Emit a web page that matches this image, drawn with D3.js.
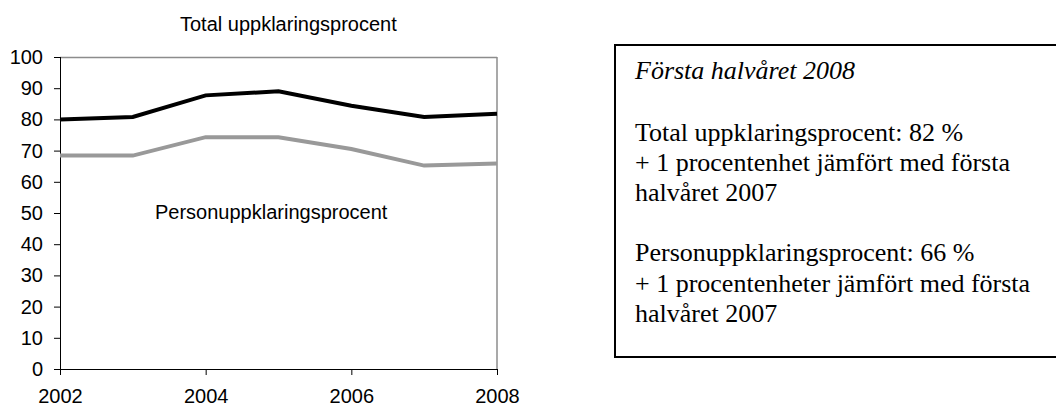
<!DOCTYPE html>
<html><head><meta charset="utf-8">
<script src="https://cdn.jsdelivr.net/npm/d3@7"></script>
<style>html,body{margin:0;padding:0;background:#fff;}svg{display:block;}</style>
</head><body>
<svg id="c" width="1056" height="410"></svg>
<script>
const years = [2002, 2003, 2004, 2005, 2006, 2007, 2008];
const totalValues = [80, 80.8, 87.7, 89.0, 84.4, 80.8, 81.8];
const personValues = [68.4, 68.4, 74.3, 74.3, 70.5, 65.2, 65.9];
const yTicks = [0, 10, 20, 30, 40, 50, 60, 70, 80, 90, 100];
const xTickLabels = [2002, 2004, 2006, 2008];
const chartTitle = "Total uppklaringsprocent";
const personLabel = "Personuppklaringsprocent";
const boxTitle = "Första halvåret 2008";
const boxLines = [
  "Total uppklaringsprocent: 82 %",
  "+ 1 procentenhet jämfört med första",
  "halvåret 2007",
  "",
  "Personuppklaringsprocent: 66 %",
  "+ 1 procentenheter jämfört med första",
  "halvåret 2007"
];

const svg = d3.select("#c");
const L = 60, R = 497, T = 57, B = 369;
const x = d3.scaleLinear().domain([2002, 2008]).range([L, R]);
const y = d3.scaleLinear().domain([0, 100]).range([B, T]);
const sans = "Arial, 'Liberation Sans', sans-serif";
const serif = "'Times New Roman', 'Liberation Serif', serif";

// plot border (top and right, gray)
svg.append("line").attr("x1", L).attr("x2", R).attr("y1", T + 0.5).attr("y2", T + 0.5)
  .attr("stroke", "#8c8c8c").attr("stroke-width", 1.5);
svg.append("line").attr("x1", R).attr("x2", R).attr("y1", T).attr("y2", B)
  .attr("stroke", "#8c8c8c").attr("stroke-width", 1.5);

// y axis
const yAxis = svg.append("g").attr("transform", `translate(${L},0)`)
  .call(d3.axisLeft(y).tickValues(yTicks).tickSize(6).tickPadding(11).tickFormat(d3.format("d")));
yAxis.select(".domain").attr("stroke", "#000").attr("d", `M0.5,${T}V${B}`);
yAxis.selectAll(".tick line").attr("stroke", "#000");
yAxis.selectAll("text").attr("font-family", sans).attr("font-size", 20).attr("fill", "#000");

// x axis
const xAxis = svg.append("g").attr("transform", `translate(0,${B})`)
  .call(d3.axisBottom(x).tickValues(xTickLabels).tickSize(6).tickPadding(14).tickFormat(d3.format("d")));
xAxis.select(".domain").attr("stroke", "#000").attr("d", `M${L},0.5H${R}`);
xAxis.selectAll(".tick line").attr("stroke", "#000");
xAxis.selectAll("text").attr("font-family", sans).attr("font-size", 20).attr("fill", "#000");

const line = d3.line().x((d, i) => x(years[i])).y(d => y(d));

svg.append("path").datum(personValues).attr("d", line)
  .attr("fill", "none").attr("stroke", "#999999").attr("stroke-width", 4);
svg.append("path").datum(totalValues).attr("d", line)
  .attr("fill", "none").attr("stroke", "#000").attr("stroke-width", 4);

// titles
svg.append("text").attr("x", 180).attr("y", 31).attr("font-family", sans).attr("font-size", 20)
  .attr("fill", "#000").text(chartTitle);
svg.append("text").attr("x", 155).attr("y", 219).attr("font-family", sans).attr("font-size", 20)
  .attr("fill", "#000").text(personLabel);

// text box
svg.append("rect").attr("x", 615).attr("y", 45).attr("width", 460).attr("height", 312)
  .attr("fill", "none").attr("stroke", "#000").attr("stroke-width", 2);
svg.append("text").attr("x", 635).attr("y", 79).attr("font-family", serif).attr("font-size", 26)
  .attr("font-style", "italic").attr("fill", "#000").text(boxTitle);
const bt = svg.append("g");
boxLines.forEach((s, i) => {
  bt.append("text").attr("x", 635).attr("y", 141 + i * 30.1).attr("font-family", serif)
    .attr("font-size", 26).attr("fill", "#000").text(s);
});
</script>
</body></html>
